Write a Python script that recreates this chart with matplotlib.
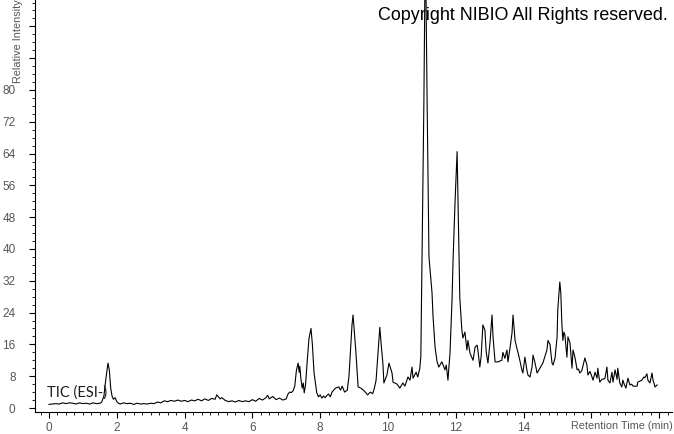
import matplotlib
matplotlib.use("Agg")
import matplotlib.pyplot as plt
from matplotlib.ticker import MultipleLocator, FixedLocator

# Retention time (min) and relative intensity
rt = [0.00, 0.10, 0.20, 0.30, 0.40, 0.50, 0.60, 0.70, 0.80, 0.90, 1.00, 1.10, 1.20, 1.30, 1.40, 1.50, 1.55,
      1.62, 1.68, 1.74, 1.78, 1.82, 1.86, 1.90, 1.95, 2.00, 2.05,
      2.10, 2.20, 2.30, 2.40, 2.50, 2.60, 2.70, 2.80, 2.90, 3.00, 3.10, 3.20, 3.30, 3.40, 3.50, 3.60, 3.70,
      3.80, 3.90, 4.00, 4.10, 4.20, 4.30, 4.40, 4.50, 4.60, 4.70, 4.80, 4.90, 4.95, 5.00, 5.05, 5.10, 5.20,
      5.30, 5.40, 5.50, 5.60, 5.70, 5.80, 5.90, 6.00, 6.10, 6.20, 6.30, 6.40, 6.45, 6.50, 6.60, 6.70, 6.80,
      6.90, 7.00, 7.05, 7.10, 7.15, 7.20,
      7.25, 7.30, 7.35, 7.38, 7.40, 7.43, 7.47, 7.50, 7.53, 7.57, 7.62, 7.67, 7.73, 7.77, 7.82, 7.90, 7.95,
      8.00, 8.05, 8.10, 8.15, 8.20, 8.25, 8.30, 8.35, 8.45, 8.55, 8.60, 8.65, 8.72, 8.80, 8.85, 8.90, 8.94,
      8.97, 9.00, 9.05, 9.12, 9.20, 9.30, 9.40, 9.48, 9.55, 9.60, 9.65, 9.70, 9.76, 9.80, 9.85, 9.88, 9.97,
      10.03, 10.12, 10.15, 10.27, 10.35, 10.44, 10.50, 10.59, 10.65, 10.71, 10.74, 10.83, 10.88, 10.94,
      10.97, 11.03, 11.06, 11.09, 11.12, 11.15, 11.21, 11.30, 11.33, 11.39, 11.45, 11.50, 11.55, 11.59,
      11.62, 11.68, 11.72, 11.77, 11.83, 11.89, 11.92, 11.98, 12.04, 12.06, 12.12, 12.18, 12.21, 12.27,
      12.33, 12.36, 12.42, 12.51, 12.57, 12.63, 12.65, 12.71, 12.75, 12.80, 12.86, 12.90, 12.95, 13.01,
      13.07, 13.10, 13.16, 13.24, 13.36, 13.39, 13.45, 13.51, 13.54, 13.60, 13.66, 13.69, 13.75, 13.81,
      13.85, 13.89, 13.95, 13.98, 14.04, 14.10, 14.13, 14.19, 14.25, 14.28, 14.34, 14.40, 14.48, 14.57,
      14.69, 14.72, 14.78, 14.84, 14.87, 14.93, 14.99, 15.01, 15.07, 15.10, 15.13, 15.16, 15.19, 15.22,
      15.28, 15.31, 15.37, 15.43, 15.46, 15.52, 15.58, 15.62, 15.66, 15.72, 15.81, 15.87, 15.90, 15.96,
      16.02, 16.05, 16.11, 16.17, 16.19, 16.25, 16.31, 16.40, 16.46, 16.49, 16.55, 16.61, 16.64, 16.70,
      16.76, 16.78, 16.84, 16.90, 16.93, 16.97, 17.02, 17.08, 17.14, 17.19, 17.23, 17.35, 17.37, 17.49,
      17.55, 17.58, 17.64, 17.67, 17.73, 17.79, 17.82, 17.88, 17.94]
intensity = [0.9, 1.0, 1.1, 1.0, 1.3, 1.1, 1.3, 1.2, 1.0, 1.3, 1.1, 1.2, 1.0, 1.3, 1.1, 1.2, 1.4,
             3.0, 7.5, 11.3, 9.5, 5.0, 3.0, 2.2, 2.6, 1.6, 1.2,
             1.0, 1.3, 1.1, 1.2, 0.9, 1.2, 1.0, 1.1, 1.0, 1.2, 1.1, 1.5, 1.3, 1.8, 1.6, 1.9, 1.7,
             2.0, 1.7, 1.9, 1.6, 2.0, 1.8, 2.2, 1.8, 2.3, 1.9, 2.4, 2.2, 3.3, 2.8, 2.3, 2.6, 1.9,
             1.6, 1.8, 1.5, 1.9, 1.6, 1.8, 1.6, 2.1, 1.7, 2.4, 2.0, 2.6, 3.2, 2.3, 2.9, 2.1, 2.5,
             2.0, 2.3, 3.5, 4.0, 3.9, 4.3,
             5.5, 9.5, 11.3, 9.0, 10.5, 7.5, 5.0, 6.3, 3.8, 6.0, 12.0, 17.5, 20.0, 16.0, 8.8, 3.8, 2.8,
             3.3, 2.5, 3.0, 2.6, 3.2, 3.5, 2.8, 4.0, 5.0, 5.3, 4.5, 5.5, 4.0, 4.5, 8.0, 15.0, 21.0,
             23.4, 20.0, 14.6, 5.3, 5.0, 4.3, 3.3, 4.0, 3.6, 5.0, 7.0, 13.0, 20.3, 16.0, 11.3, 6.3, 8.3,
             11.3, 8.8, 6.5, 6.0, 5.0, 6.3, 5.5, 7.8, 7.0, 10.3, 7.5, 9.0, 7.8, 10.0,
             13.0, 55.0, 77.0, 106.0, 106.0, 81.0, 38.0, 29.0, 23.0, 15.3, 11.6, 10.3, 11.0, 11.6,
             11.0, 9.6, 10.8, 7.0, 13.8, 27.0, 37.0, 52.0, 64.5, 55.6, 27.7, 19.6, 17.6, 19.1,
             14.6, 17.0, 13.8, 12.0, 15.3, 15.8, 14.8, 10.3, 13.0, 20.9, 19.6, 14.0, 11.3, 16.4,
             23.4, 17.9, 11.6, 11.6, 12.0, 14.0, 12.5, 14.6, 11.6, 15.0, 18.9, 23.4, 17.0, 14.8,
             13.5, 12.0, 9.6, 8.8, 12.8, 9.5, 8.3, 7.8, 10.3, 13.3, 11.3, 8.8, 10.0, 11.3,
             14.6, 17.0, 16.0, 11.3, 10.8, 12.6, 17.9, 24.7, 31.7, 28.9, 21.4, 17.0, 19.1, 18.4,
             12.8, 17.9, 16.4, 10.0, 14.6, 12.6, 9.6, 9.8, 8.8, 9.4, 12.6, 10.8, 8.3, 9.2,
             7.8, 7.0, 9.0, 7.5, 10.0, 6.5, 7.2, 7.4, 10.3, 7.0, 6.3, 9.0, 6.5, 9.6,
             7.2, 10.0, 6.3, 5.3, 7.0, 6.0, 5.0, 7.5, 5.8, 6.0, 5.5, 5.5, 6.5, 7.0,
             7.8, 7.6, 8.6, 7.0, 6.3, 8.8, 7.0, 5.3, 5.8]

xticks = [0, 2, 4, 6, 8, 10, 12, 14]
yticks = [0, 8, 16, 24, 32, 40, 48, 56, 64, 72, 80]

fig = plt.figure(figsize=(6.74, 4.34), dpi=100)
ax = fig.add_axes([35 / 674, 22 / 434, 637 / 674, 412 / 434])
ax.plot(rt, intensity, color="black", lw=0.8, clip_on=True)

ax.set_xlim(-0.413, 18.38)
ax.set_ylim(-1.006, 102.64)
for s in ("top", "right"):
    ax.spines[s].set_visible(False)
for s in ("left", "bottom"):
    ax.spines[s].set_linewidth(0.8)
    ax.spines[s].set_color("black")

ax.xaxis.set_major_locator(FixedLocator(xticks + [16, 18]))
ax.set_xticklabels([str(v) for v in xticks] + ["", ""])
ax.xaxis.set_minor_locator(MultipleLocator(0.25))
ax.yaxis.set_major_locator(FixedLocator(yticks + [88, 96]))
ax.set_yticklabels([str(v) for v in yticks] + ["", ""])
ax.yaxis.set_minor_locator(MultipleLocator(2))
ax.tick_params(which="major", direction="out", length=4, width=0.8, color="black",
               labelsize=8.5, labelcolor="#555555")
ax.tick_params(which="minor", direction="out", length=2, width=0.6, color="black")
ax.tick_params(axis="y", which="major", pad=10)
ax.tick_params(axis="x", which="major", pad=3)
for lbl in ax.get_xticklabels() + ax.get_yticklabels():
    lbl.set_family("Liberation Sans")

fig.text(18 / 674, 1 - 41 / 434, "Relative Intensity", rotation=90, ha="center", va="center",
         fontsize=7.8, color="#555555", family="Liberation Sans")
fig.text(673 / 674, 1 - 426 / 434, "Retention Time (min)", ha="right", va="center",
         fontsize=7.8, color="#555555", family="Liberation Sans")
fig.text(668 / 674, 1 - 15 / 434, "Copyright NIBIO All Rights reserved.", ha="right", va="center",
         fontsize=12.9, color="black", family="Liberation Sans")
fig.text(47 / 674, 1 - 393 / 434, "TIC (ESI-)", ha="left", va="center",
         fontsize=10.5, color="#1a1a1a", family="Lato")

fig.savefig("out.png", dpi=100)
